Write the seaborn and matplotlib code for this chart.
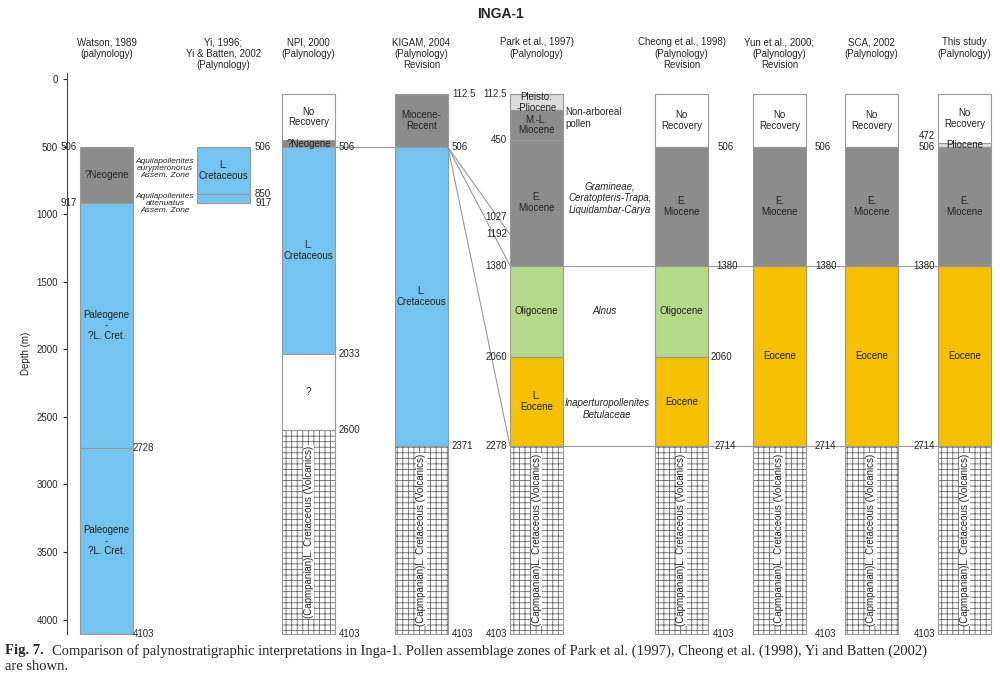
import matplotlib
matplotlib.use("Agg")
import matplotlib.pyplot as plt
import seaborn as sns

sns.set_style("white")
plt.rcParams['font.family'] = ['Arial', 'Liberation Sans', 'DejaVu Sans']
plt.rcParams['hatch.color'] = '#666666'
plt.rcParams['hatch.linewidth'] = 0.6

# column x positions (left edge) and headers
col_x = [80, 197, 282, 395, 510, 655, 753, 845, 938]
col_w = 53
headers = ["Watson, 1989\n(palynology)", "Yi, 1996;\nYi & Batten, 2002\n(Palynology)",
           "NPI, 2000\n(Palynology)", "KIGAM, 2004\n(Palynology)\nRevision",
           "Park et al., 1997)\n(Palynology)", "Cheong et al., 1998)\n(Palynology)\nRevision",
           "Yun et al., 2000;\n(Palynology)\nRevision", "SCA, 2002\n(Palynology)",
           "This study\n(Palynology)"]

GREY, BLUE, GREEN, ORANGE, LGREY, WHITE, HATCH = "#8c8c8c", "#74c4ef", "#b5d98a", "#f5c000", "#dcdcdc", "white", "hatch"
VOLC = "(Capmpanian)L. Cretaceous (Volcanics)"

# (top, base, colour, label) per column
units = [
    [(506, 917, GREY, "?Neogene"), (917, 2728, BLUE, "Paleogene\n-\n?L. Cret."), (2728, 4103, BLUE, "Paleogene\n-\n?L. Cret.")],
    [(506, 850, BLUE, "L.\nCretaceous"), (850, 917, BLUE, "")],
    [(112.5, 450, WHITE, "No\nRecovery"), (450, 506, GREY, "?Neogene"), (506, 2033, BLUE, "L.\nCretaceous"),
     (2033, 2600, WHITE, "?"), (2600, 4103, HATCH, VOLC)],
    [(112.5, 506, GREY, "Miocene-\nRecent"), (506, 2714, BLUE, "L.\nCretaceous"), (2714, 4103, HATCH, VOLC)],
    [(112.5, 230, LGREY, "Pleisto.\n-Pliocene"), (230, 450, GREY, "M.-L.\nMiocene"), (450, 1380, GREY, "E.\nMiocene"),
     (1380, 2060, GREEN, "Oligocene"), (2060, 2714, ORANGE, "L.\nEocene"), (2714, 4103, HATCH, VOLC)],
    [(112.5, 506, WHITE, "No\nRecovery"), (506, 1380, GREY, "E.\nMiocene"), (1380, 2060, GREEN, "Oligocene"),
     (2060, 2714, ORANGE, "Eocene"), (2714, 4103, HATCH, VOLC)],
    [(112.5, 506, WHITE, "No\nRecovery"), (506, 1380, GREY, "E.\nMiocene"), (1380, 2714, ORANGE, "Eocene"),
     (2714, 4103, HATCH, VOLC)],
    [(112.5, 506, WHITE, "No\nRecovery"), (506, 1380, GREY, "E.\nMiocene"), (1380, 2714, ORANGE, "Eocene"),
     (2714, 4103, HATCH, VOLC)],
    [(112.5, 472, WHITE, "No\nRecovery"), (472, 506, LGREY, "Pliocene"), (506, 1380, GREY, "E.\nMiocene"),
     (1380, 2714, ORANGE, "Eocene"), (2714, 4103, HATCH, VOLC)],
]

# depth labels: (x, depth, text, ha)
depth_labels = [
    (77, 506, "506", "right"), (77, 917, "917", "right"), (133, 2728, "2728", "left"), (133, 4103, "4103", "left"),
    (255, 506, "506", "left"), (255, 850, "850", "left"), (255, 917, "917", "left"),
    (339, 506, "506", "left"), (339, 2033, "2033", "left"), (339, 2600, "2600", "left"), (339, 4103, "4103", "left"),
    (452, 112.5, "112.5", "left"), (452, 506, "506", "left"), (452, 2714, "2371", "left"), (452, 4103, "4103", "left"),
    (507, 112.5, "112.5", "right"), (507, 450, "450", "right"), (507, 1020, "1027", "right"), (507, 1150, "1192", "right"),
    (507, 1380, "1380", "right"), (507, 2060, "2060", "right"), (507, 2714, "2278", "right"), (507, 4103, "4103", "right"),
    (718, 506, "506", "left"), (716, 1380, "1380", "left"), (711, 2060, "2060", "left"), (715, 2714, "2714", "left"), (713, 4103, "4103", "left"),
    (815, 506, "506", "left"), (815, 1380, "1380", "left"), (815, 2714, "2714", "left"), (815, 4103, "4103", "left"),
    (935, 420, "472", "right"), (935, 506, "506", "right"), (935, 1380, "1380", "right"), (935, 2714, "2714", "right"), (935, 4103, "4103", "right"),
]

# pollen zones beside Park et al.
zones = [(290, "Non-arboreal\npollen", "normal", 565, "left"), (880, "Gramineae,\nCeratopteris-Trapa,\nLiquidambar-Carya", "italic", 610, "center"),
         (1720, "Alnus", "italic", 605, "center"), (2440, "Inaperturopollenites\nBetulaceae", "italic", 607, "center")]
yi_zones = [(660, "Aquilapollenites\neurypteronorus\nAssem. Zone"), (920, "Aquilapollenites\nattenuatus\nAssem. Zone")]

fig = plt.figure(figsize=(10, 6.75), dpi=100)
ax = fig.add_axes([0.067, 0.06, 0.933, 0.832])
ax.set_xlim(67, 1000)
ax.set_ylim(4110, -45)

for x0, col in zip(col_x, units):
    for top, base, c, lab in col:
        if c == HATCH:
            ax.bar(x0, base - top, bottom=top, width=col_w, align='edge', color='white',
                   edgecolor='#666666', hatch='|||---', lw=0.6)
            ax.bar(x0, base - top, bottom=top, width=col_w, align='edge', fill=False, edgecolor='#999999', lw=0.8)
            ax.text(x0 + col_w / 2, (top + base) / 2, lab, rotation=90, ha='center', va='center', fontsize=7,
                    bbox=dict(fc='white', ec='none', pad=0.5))
        else:
            ax.bar(x0, base - top, bottom=top, width=col_w, align='edge', color=c, edgecolor='#999999', lw=0.8)
            ax.text(x0 + col_w / 2, (top + base) / 2, lab, ha='center', va='center', fontsize=7, color='#222222',
                    linespacing=1.1)

for x, d, t, ha in depth_labels:
    ax.text(x, d, t, ha=ha, va='center', fontsize=7)

for d, t, st, x, ha in zones:
    ax.text(x, d, t, ha=ha, va='center', fontsize=7, style=st)
for d, t in yi_zones:
    ax.text(165, d, t, ha='center', va='center', fontsize=6, style='italic', linespacing=1.0)

# correlation lines
lc = '#999999'
ax.plot([335, 395], [506, 506], color=lc, lw=0.8)
ax.plot([563, 991], [1380, 1380], color=lc, lw=0.8)
ax.plot([563, 991], [2714, 2714], color=lc, lw=0.8)
for d in [1150, 1380, 2714]:
    ax.plot([448, 510], [506, d], color=lc, lw=0.8)

for x0, h in zip(col_x, headers):
    ax.text(x0 + col_w / 2, -310, h, ha='center', va='top', fontsize=7, clip_on=False)

ax.set_yticks(range(0, 4001, 500))
ax.tick_params(axis='y', labelsize=7, length=3, left=True)
ax.set_xticks([])
ax.set_ylabel("Depth (m)", fontsize=7)
for s in ['top', 'right', 'bottom']:
    ax.spines[s].set_visible(False)
ax.spines['left'].set_color('#444444')

fig.text(0.5, 0.99, "INGA-1", ha='center', va='top', fontsize=10, weight='bold')
fig.text(0.005, 0.046, "Fig. 7.", ha='left', va='top', fontsize=10.5, weight='bold', family='Liberation Serif')
fig.text(0.052, 0.046, "Comparison of palynostratigraphic interpretations in Inga-1. Pollen assemblage zones of Park et al. (1997), Cheong et al. (1998), Yi and Batten (2002)",
         ha='left', va='top', fontsize=10.5, family='Liberation Serif')
fig.text(0.005, 0.022, "are shown.", ha='left', va='top', fontsize=10.5, family='Liberation Serif')

fig.savefig("out.png", dpi=100)
